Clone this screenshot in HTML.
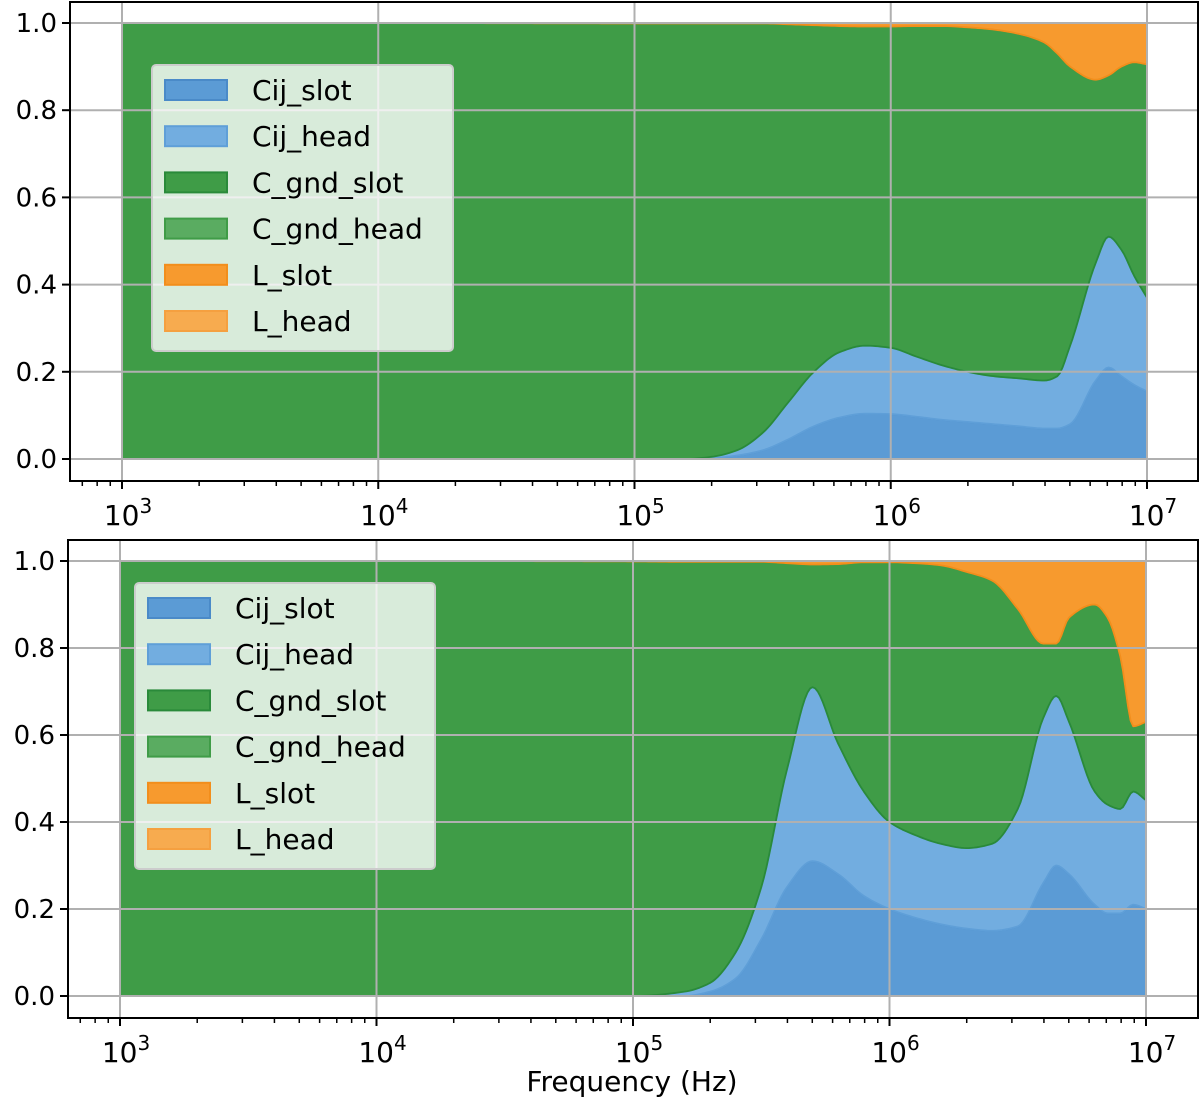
<!DOCTYPE html>
<html><head><meta charset="utf-8"><style>
body{margin:0;background:#fff}
svg{display:block;font-family:"DejaVu Sans","Liberation Sans",sans-serif}
</style></head><body>
<svg id="chart" width="1200" height="1099" viewBox="0 0 1200 1099"></svg>
<script>
const seriesNames = ["Cij_slot","Cij_head","C_gnd_slot","C_gnd_head","L_slot","L_head"];
const logFreq = [3,4,5,5.2,5.3,5.4,5.5,5.6,5.7,5.8,5.9,6.0,6.1,6.2,6.3,6.4,6.5,6.6,6.65,6.7,6.8,6.85,6.9,6.95,7];
// top panel
const topCijSlot = [0,0,0,0,0.002,0.008,0.02,0.045,0.075,0.095,0.104,0.103,0.097,0.09,0.085,0.08,0.075,0.07,0.07,0.08,0.18,0.21,0.19,0.17,0.155];
const topCijHead = [0,0,0,0,0.003,0.012,0.04,0.085,0.125,0.15,0.156,0.152,0.138,0.125,0.115,0.11,0.11,0.11,0.12,0.18,0.27,0.30,0.29,0.25,0.215];
const topCgndSlot = [1,1,0.999,0.999,0.994,0.979,0.939,0.867,0.795,0.748,0.732,0.737,0.758,0.778,0.79,0.795,0.79,0.775,0.74,0.64,0.42,0.37,0.42,0.49,0.535];
const topCgndHead = [0,0,0,0,0,0,0,0,0,0,0,0,0,0,0,0,0,0,0,0,0,0,0,0,0];
const topLSlot = [0,0,0.001,0.001,0.001,0.001,0.001,0.003,0.005,0.007,0.008,0.008,0.007,0.007,0.01,0.015,0.025,0.045,0.07,0.1,0.13,0.12,0.1,0.09,0.095];
const topLHead = [0,0,0,0,0,0,0,0,0,0,0,0,0,0,0,0,0,0,0,0,0,0,0,0,0];
// bottom panel
const botCijSlot = [0,0,0,0,0.01,0.04,0.13,0.25,0.31,0.28,0.23,0.2,0.18,0.165,0.155,0.15,0.16,0.26,0.30,0.28,0.21,0.19,0.19,0.21,0.2];
const botCijHead = [0,0,0,0.01,0.02,0.06,0.12,0.27,0.40,0.30,0.24,0.20,0.19,0.185,0.185,0.20,0.27,0.38,0.39,0.35,0.26,0.25,0.24,0.26,0.25];
const botCgndSlot = [1,1,0.999,0.988,0.968,0.898,0.748,0.475,0.282,0.413,0.527,0.597,0.625,0.64,0.635,0.605,0.46,0.17,0.12,0.24,0.43,0.43,0.35,0.15,0.18];
const botCgndHead = [0,0,0,0,0,0,0,0,0,0,0,0,0,0,0,0,0,0,0,0,0,0,0,0,0];
const botLSlot = [0,0,0.001,0.002,0.002,0.002,0.002,0.005,0.008,0.007,0.003,0.003,0.005,0.01,0.025,0.045,0.11,0.19,0.19,0.13,0.1,0.13,0.22,0.38,0.37];
const botLHead = [0,0,0,0,0,0,0,0,0,0,0,0,0,0,0,0,0,0,0,0,0,0,0,0,0];
const yTicks = [0,0.2,0.4,0.6,0.8,1.0];
const yTickLabels = ["0.0","0.2","0.4","0.6","0.8","1.0"];
const xDecades = [3,4,5,6,7];

const fills = ["#5b9bd5","#72ade0","#3f9c47","#5aac61","#f79a2e","#f7ab4f"];
const strokes = ["#4a8ac8","#5f9fd8","#2a8a3a","#3f9c47","#f28e1c","#f5a040"];
const NS = "http://www.w3.org/2000/svg";
const svg = document.getElementById("chart");
function mk(tag, attrs, parent){const e=document.createElementNS(NS,tag);for(const k in attrs)e.setAttribute(k,attrs[k]);(parent||svg).appendChild(e);return e;}

function monotone(xs, ys){
  const n=xs.length, d=[], m=new Array(n);
  for(let i=0;i<n-1;i++) d.push((ys[i+1]-ys[i])/(xs[i+1]-xs[i]));
  m[0]=d[0]; m[n-1]=d[n-2];
  for(let i=1;i<n-1;i++){ if(d[i-1]*d[i]<=0) m[i]=0; else { const w1=2*(xs[i+1]-xs[i])+(xs[i]-xs[i-1]); const w2=(xs[i+1]-xs[i])+2*(xs[i]-xs[i-1]); m[i]=(w1+w2)/(w1/d[i-1]+w2/d[i]); } }
  return function(x){
    let i=0; while(i<n-2 && x>xs[i+1]) i++;
    const h=xs[i+1]-xs[i], t=(x-xs[i])/h, t2=t*t, t3=t2*t;
    return (2*t3-3*t2+1)*ys[i]+(t3-2*t2+t)*h*m[i]+(-2*t3+3*t2)*ys[i+1]+(t3-t2)*h*m[i+1];
  };
}

function panel(cfg, series, legendCfg, idx){
  const g = mk("g",{});
  
  
  const xS = e => cfg.x0 + (e-3)*(cfg.x1-cfg.x0)/4;
  const yS = v => cfg.y0 - v*(cfg.y0-cfg.y1);
  // cumulative
  const cum=[]; let prev=logFreq.map(()=>0);
  series.forEach(s=>{ const c=s.map((v,i)=>prev[i]+v); cum.push(c); prev=c; });
  const N=400, samp=[]; for(let k=0;k<=N;k++) samp.push(3+4*k/N);
  let lower = samp.map(()=>0);
  cum.forEach((c,si)=>{
    const f=monotone(logFreq,c);
    const upper=samp.map(x=>Math.min(1.0,Math.max(0,f(x))));
    let d="M"+samp.map((x,i)=>xS(x).toFixed(2)+","+yS(upper[i]).toFixed(2)).join("L");
    for(let i=N;i>=0;i--) d+="L"+xS(samp[i]).toFixed(2)+","+yS(lower[i]).toFixed(2);
    d+="Z";
    const p=mk("path",{d:d,fill:fills[si],stroke:strokes[si],"stroke-width":series[si].some(v=>v>0)?1.8:0,"stroke-linejoin":"round"},g);
    
    
    lower=upper;
  });
  // grid
  xDecades.forEach(e=>{
    const gl=mk("line",{x1:xS(e),x2:xS(e),y1:cfg.top,y2:cfg.bottom,stroke:"#b0b0b0","stroke-width":2},g);
    
    
  });
  yTicks.forEach((v,i)=>{
    const gl=mk("line",{x1:cfg.left,x2:cfg.right,y1:yS(v),y2:yS(v),stroke:"#b0b0b0","stroke-width":2},g);
    
    
    const tk=mk("line",{x1:cfg.left-8,x2:cfg.left,y1:yS(v),y2:yS(v),stroke:"#000","stroke-width":2},g);
    
    
    const t=mk("text",{x:cfg.left-13,y:yS(v)+9,"text-anchor":"end","font-size":26,fill:"#000"},g);
    t.textContent=yTickLabels[i];
    
    
  });
  // x ticks
  for(let e=2;e<=7;e++){
    for(let k=1;k<10;k++){
      const lx=e+Math.log10(k); const px=xS(lx);
      if(px<cfg.left||px>cfg.right) continue;
      const major=k===1;
      const tk=mk("line",{x1:px,x2:px,y1:cfg.bottom,y2:cfg.bottom+(major?8:5),stroke:"#000","stroke-width":major?2:1.5},g);
      
      
    }
  }
  xDecades.forEach(e=>{
    const t=mk("text",{x:xS(e)+6,y:cfg.bottom+44,"text-anchor":"middle","font-size":28,fill:"#000"},g);
    
    
    const a=document.createElementNS(NS,"tspan"); a.textContent="10"; t.appendChild(a);
    const b=document.createElementNS(NS,"tspan"); b.setAttribute("dy","-12"); b.setAttribute("font-size","20"); b.textContent=String(e); t.appendChild(b);
  });
  const fr=mk("rect",{x:cfg.left,y:cfg.top,width:cfg.right-cfg.left,height:cfg.bottom-cfg.top,fill:"none",stroke:"#000","stroke-width":2},g);
  
  
  // legend
  const L=legendCfg;
  const lg=mk("g",{},g);
  
  
  mk("rect",{x:L.x,y:L.y,width:L.w,height:L.h,rx:4,fill:"#fff","fill-opacity":0.8,stroke:"#cccccc","stroke-width":2},lg);
  seriesNames.forEach((nm,i)=>{
    const cy=L.y+25+i*46.2;
    const e=mk("g",{},lg);
    
    
    mk("rect",{x:L.x+13,y:cy-10,width:62,height:20,fill:fills[i],stroke:strokes[i],"stroke-width":2},e);
    const t=mk("text",{x:L.x+100,y:cy+10,"font-size":28,fill:"#000"},e);
    t.textContent=nm;
  });
}

panel({left:70,right:1198,top:2,bottom:481,x0:122,x1:1147,y0:459,y1:23},
  [topCijSlot,topCijHead,topCgndSlot,topCgndHead,topLSlot,topLHead],{x:152,y:65,w:301,h:286},0);
panel({left:68,right:1198,top:540,bottom:1018,x0:120,x1:1146,y0:996,y1:561},
  [botCijSlot,botCijHead,botCgndSlot,botCgndHead,botLSlot,botLHead],{x:135,y:583,w:300,h:286},1);

const xt=mk("text",{x:632,y:1091,"text-anchor":"middle","font-size":28,fill:"#000"});
xt.textContent="Frequency (Hz)";


</script>
</body></html>
